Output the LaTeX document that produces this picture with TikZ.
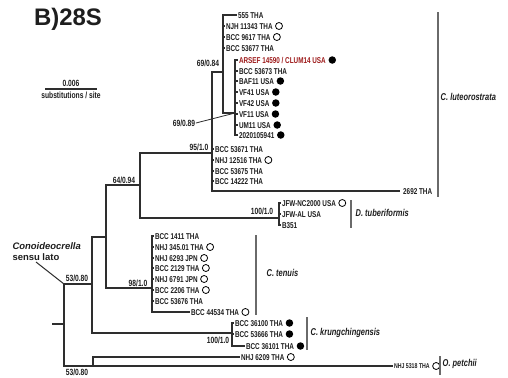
\documentclass[tikz,border=0pt]{standalone}
\usepackage{fontspec}
\setmainfont{Liberation Sans}
\newfontfamily\narrowfont{Liberation Sans}[FakeStretch=0.75]
\usepackage{tikz}
\usetikzlibrary{positioning}
\definecolor{PageBg}{HTML}{FFFFFF}
\definecolor{TreeLine}{HTML}{2E2E2E}
\definecolor{BarGray}{HTML}{6A6A6A}
\definecolor{TipText}{HTML}{1E1E1E}
\definecolor{IsolateRed}{HTML}{9E1B1B}

\tikzset{
  branch/.style={TreeLine, line width=1.2bp},
  leaf/.style={anchor=west, inner sep=0.8bp, text height=6bp, text depth=0bp, text=TipText, font=\narrowfont\bfseries\fontsize{8.5}{9}\selectfont},
  support/.style={inner sep=0.5bp, text=TipText, font=\narrowfont\bfseries\fontsize{9}{10}\selectfont},
  species/.style={anchor=west, inner sep=0.5bp, text=TipText, font=\narrowfont\bfseries\itshape\fontsize{10}{11}\selectfont},
  cladebar/.style={BarGray, line width=1.5bp},
  fulldot/.style={circle, fill=black, inner sep=0pt, minimum size=7.5bp},
  opendot/.style={circle, draw=black, line width=0.8bp, inner sep=0pt, minimum size=7bp},
}

\begin{document}
\begin{tikzpicture}[x=1bp, y=-1bp]
    \useasboundingbox (0,0) rectangle (508,377);
    \fill[PageBg] (0,0) rectangle (508,377);

    % title and scale bar
    \node[font=\bfseries\fontsize{24}{26}\selectfont, text=TipText] (title) at (68,19) {B)28S};
    \coordinate (scaleL) at (45,89);
    \coordinate (scaleR) at (97,89);
    \draw[branch] (scaleL) -- (scaleR);
    \node[support] (scaleVal) at (71,83) {0.006};
    \node[support] (scaleUnit) at (71,95) {substitutions / site};

    % internal nodes
    \coordinate (stub) at (52,324);
    \coordinate (root) at (64,324);
    \coordinate (slTop) at (92,284);
    \coordinate (core) at (106,237);
    \coordinate (luteoTub) at (140,185);
    \coordinate (luteo) at (212,153);
    \coordinate (luteoA) at (223,72);
    \coordinate (luteoB) at (235,113);
    \coordinate (tuber) at (279,218);
    \coordinate (tenuis) at (152,288);
    \coordinate (krung) at (232,333);
    \coordinate (petchii) at (93,366);

    \draw[branch] (stub) -- (root);
    \draw[branch] (root) |- (slTop);
    \draw[branch] (root) |- (petchii);
    \draw[branch] (slTop) |- (core);
    \draw[branch] (slTop) |- (krung);
    \draw[branch] (core) |- (luteoTub);
    \draw[branch] (core) |- (tenuis);
    \draw[branch] (luteoTub) |- (luteo);
    \draw[branch] (luteoTub) |- (tuber);
    \draw[branch] (luteo) |- (luteoA);
    \draw[branch] (luteoA) |- (luteoB);

    % C. luteorostrata tips
    \node[leaf] (t555) at (237,15) {555 THA};
    \draw[branch] (luteoA) |- (t555.west);
    \foreach \nm/\yy/\txt in {n11343/26/NJH 11343 THA, c9617/37/BCC 9617 THA, c53677/48/BCC 53677 THA} {
        \node[leaf] (\nm) at (225,\yy) {\txt};
        \draw[branch] (luteoA) |- (\nm.west);
    }
    \node[leaf, text=IsolateRed] (arsef) at (238,60) {ARSEF 14590 / CLUM14 USA};
    \draw[branch] (luteoB) |- (arsef.west);
    \foreach \nm/\yy/\txt in {c53673/71/BCC 53673 THA, baf11/81/BAF11 USA, vf41/92/VF41 USA, vf42/103/VF42 USA,
        vf11/114/VF11 USA, um11/125/UM11 USA, x2020/135/2020105941} {
        \node[leaf] (\nm) at (238,\yy) {\txt};
        \draw[branch] (luteoB) |- (\nm.west);
    }
    \foreach \nm/\yy/\txt in {c53671/149/BCC 53671 THA, n12516/160/NHJ 12516 THA, c53675/171/BCC 53675 THA, c14222/181/BCC 14222 THA} {
        \node[leaf] (\nm) at (214,\yy) {\txt};
        \draw[branch] (luteo) |- (\nm.west);
    }
    \node[leaf, inner xsep=3bp] (t2692) at (400,191) {2692 THA};
    \draw[branch] (luteo) |- (t2692.west);

    % D. tuberiformis tips
    \foreach \nm/\yy/\txt in {jfwnc/203/JFW-NC2000 USA, jfwal/214/JFW-AL USA, b351/225/B351} {
        \node[leaf] (\nm) at (281,\yy) {\txt};
        \draw[branch] (tuber) |- (\nm.west);
    }

    % C. tenuis tips
    \foreach \nm/\yy/\txt in {c1411/236/BCC 1411 THA, n34501/247/NHJ 345.01 THA, n6293/258/NHJ 6293 JPN, c2129/268/BCC 2129 THA,
        n6791/279/NHJ 6791 JPN, c2206/290/BCC 2206 THA, c53676/301/BCC 53676 THA} {
        \node[leaf] (\nm) at (154,\yy) {\txt};
        \draw[branch] (tenuis) |- (\nm.west);
    }
    \node[leaf] (c44534) at (190,312) {BCC 44534 THA};
    \draw[branch] (tenuis) |- (c44534.west);

    % C. krungchingensis tips
    \node[leaf] (c36100) at (234,323) {BCC 36100 THA};
    \node[leaf] (c53666) at (234,334) {BCC 53666 THA};
    \node[leaf] (c36101) at (245,346) {BCC 36101 THA};
    \foreach \nm in {c36100,c53666,c36101}
        \draw[branch] (krung) |- (\nm.west);

    % O. petchii tips
    \node[leaf] (n6209) at (240,357) {NHJ 6209 THA};
    \node[leaf, font=\narrowfont\bfseries\fontsize{7}{8}\selectfont, text height=5bp] (n5318) at (393,366) {NHJ 5318 THA};
    \draw[branch] (petchii) |- (n6209.west);
    \draw[branch] (petchii) |- (n5318.west);

    % origin markers
    \foreach \nm in {arsef,baf11,vf41,vf42,vf11,um11,x2020,c36100,c53666,c36101}
        \node[fulldot, right=1.5bp of \nm] (\nm-dot) {};
    \foreach \nm in {n11343,c9617,n12516,jfwnc,n34501,n6293,c2129,n6791,c2206,c44534,n6209,n5318}
        \node[opendot, right=1.5bp of \nm] (\nm-dot) {};

    % support values
    \node[support] (s6984) at (208,63) {69/0.84};
    \node[support] (s6989) at (184,123) {69/0.89};
    \draw[TreeLine, line width=0.8bp] (s6989.east) -- (luteoB);
    \node[support] (s9510) at (199,147) {95/1.0};
    \node[support] (s6494) at (124,180) {64/0.94};
    \node[support] (s10010a) at (262,211) {100/1.0};
    \node[support] (s9810) at (138,283) {98/1.0};
    \node[support] (s10010b) at (218,340) {100/1.0};
    \node[support] (s5380a) at (77,278) {53/0.80};
    \node[support] (s5380b) at (77,372.5) {53/0.80};

    % clade bars
    \draw[cladebar] (438,12) -- (438,197);
    \node[species] (spLuteo) at (440,97) {C. luteorostrata};
    \draw[cladebar] (351,200) -- (351,228);
    \node[species] (spTuber) at (355,213) {D. tuberiformis};
    \draw[cladebar] (256,235) -- (256,315);
    \node[species] (spTenuis) at (266,273) {C. tenuis};
    \draw[cladebar] (307,317) -- (307,350);
    \node[species] (spKrung) at (310,333) {C. krungchingensis};
    \draw[cladebar] (440,356) -- (440,375);
    \node[species] (spPetchii) at (442,364) {O. petchii};

    % genus label
    \node[anchor=west, text=TipText, font=\bfseries\itshape\fontsize{9.5}{10}\selectfont] (conoid) at (9,246) {Conoideocrella};
    \node[anchor=west, text=TipText, font=\bfseries\fontsize{9.5}{10}\selectfont] (sensu) at (9,257) {sensu lato};
    \coordinate (slPtr) at (36,262);
    \draw[branch, line width=1bp] (slPtr) -- (root |- slTop);
\end{tikzpicture}
\end{document}
